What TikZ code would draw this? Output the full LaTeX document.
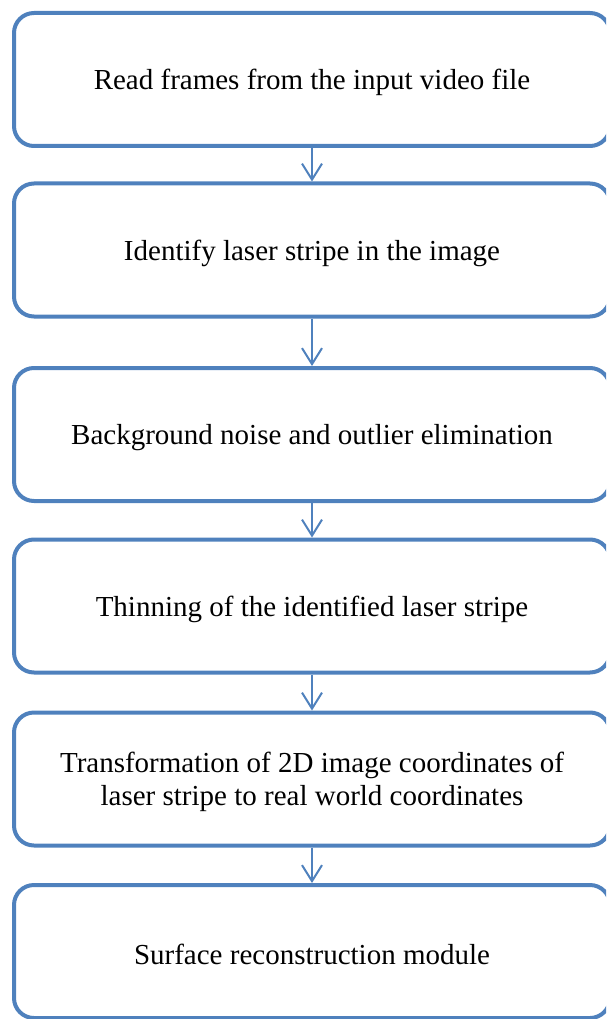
\documentclass[tikz,border=0pt]{standalone}
\usepackage{fontspec}
\setmainfont{Liberation Serif}
\usetikzlibrary{arrows.meta}
\definecolor{flowblue}{HTML}{4F81BD}
\tikzset{
  stepbox/.style={draw=flowblue, line width=4pt, rounded corners=20pt,
    minimum width=596pt, minimum height=133pt, inner sep=0pt},
  steptext/.style={align=center, inner sep=0pt, yshift=-3pt,
    font=\fontsize{29}{33}\selectfont},
  flowarrow/.style={draw=flowblue, line width=2pt,
    -{Straight Barb[length=16pt,width=20pt,line width=2pt]}}
}
\begin{document}
\begin{tikzpicture}[x=1pt,y=1pt]
  \useasboundingbox (0,0) rectangle (606,-1019);
  \clip (0,0) rectangle (606,-1019);
  % process boxes
  \node[stepbox] (b1) at (312,-79.5) {};
  \node[stepbox] (b2) at (312,-250) {};
  \node[stepbox] (b3) at (312,-434.5) {};
  \node[stepbox] (b4) at (312,-606) {};
  \node[stepbox] (b5) at (312,-779) {};
  \node[stepbox] (b6) at (312,-951.5) {};
  % box captions
  \node[steptext] (t1) at (b1.center) {Read frames from the input video file};
  \node[steptext] (t2) at (b2.center) {Identify laser stripe in the image};
  \node[steptext] (t3) at (b3.center) {Background noise and outlier elimination};
  \node[steptext] (t4) at (b4.center) {Thinning of the identified laser stripe};
  \node[steptext] (t5) at (b5.center) {Transformation of 2D image coordinates of\\laser stripe to real world coordinates};
  \node[steptext] (t6) at (b6.center) {Surface reconstruction module};
  % flow connectors
  \draw[flowarrow] (b1.south) -- (b2.north);
  \draw[flowarrow] (b2.south) -- (b3.north);
  \draw[flowarrow] (b3.south) -- (b4.north);
  \draw[flowarrow] (b4.south) -- (b5.north);
  \draw[flowarrow] (b5.south) -- (b6.north);
\end{tikzpicture}
\end{document}
